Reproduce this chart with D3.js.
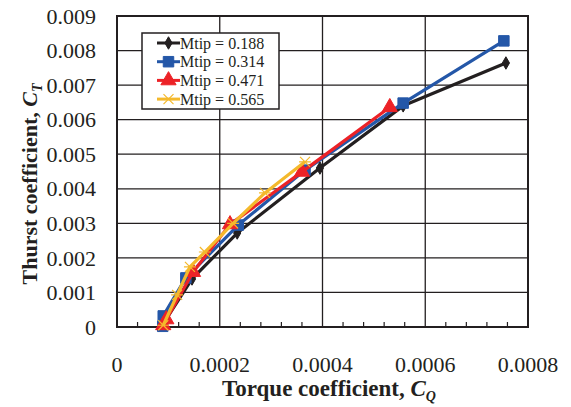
<!DOCTYPE html>
<html>
<head>
<meta charset="utf-8">
<script src="https://cdn.jsdelivr.net/npm/d3@7"></script>
<style>
  body { margin: 0; background: #fff; }
  text { font-family: "Liberation Serif", "DejaVu Serif", serif; fill: #231f20; }
</style>
</head>
<body>
<script>
var width = 571;
var height = 407;
var margin = {top: 16, right: 43, bottom: 80, left: 117};

// data
var mtipLabels = ['Mtip = 0.188', 'Mtip = 0.314', 'Mtip = 0.471', 'Mtip = 0.565'];
var cq188 = [0.000091, 0.000146, 0.000234, 0.000395, 0.000557, 0.000757];
var ct188 = [0.00012, 0.00139, 0.00272, 0.00460, 0.00640, 0.00764];
var cq314 = [0.000089, 0.000090, 0.000134, 0.000236, 0.000366, 0.000557, 0.000753];
var ct314 = [0.00002, 0.00032, 0.00142, 0.00295, 0.00454, 0.00648, 0.00828];
var cq471 = [0.000090, 0.000096, 0.000148, 0.000220, 0.000360, 0.000531];
var ct471 = [0.00005, 0.00022, 0.00159, 0.00297, 0.00449, 0.00636];
var cq565 = [0.000090, 0.000117, 0.000142, 0.000171, 0.000226, 0.000288, 0.000366];
var ct565 = [0.00005, 0.00093, 0.00174, 0.00217, 0.00300, 0.00388, 0.00478];
var xTicks = [0, 0.0002, 0.0004, 0.0006, 0.0008];
var yTicks = [0, 0.001, 0.002, 0.003, 0.004, 0.005, 0.006, 0.007, 0.008, 0.009];

var colors = ['#231f20', '#2457a8', '#ec2227', '#f4b92c'];
var shapes = ['diamond', 'square', 'triangle', 'cross'];

var series = [
  {x: cq188, y: ct188},
  {x: cq314, y: ct314},
  {x: cq471, y: ct471},
  {x: cq565, y: ct565}
];

var xRange = d3.scaleLinear().domain([0, 0.0008]).range([margin.left, width - margin.right]);
var yRange = d3.scaleLinear().domain([0, 0.009]).range([height - margin.bottom, margin.top]);

var svg = d3.select('body')
  .append('svg')
  .attr('width', width)
  .attr('height', height);

// grid
svg.selectAll('line.hgrid')
  .data(yTicks.slice(1, -1))
  .enter()
  .append('line')
  .attr('class', 'hgrid')
  .attr('x1', xRange(0)).attr('x2', xRange(0.0008))
  .attr('y1', d => yRange(d)).attr('y2', d => yRange(d))
  .style('stroke', '#231f20')
  .style('stroke-width', 1.3);

svg.selectAll('line.vgrid')
  .data(xTicks.slice(1, -1))
  .enter()
  .append('line')
  .attr('class', 'vgrid')
  .attr('y1', yRange(0)).attr('y2', yRange(0.009))
  .attr('x1', d => xRange(d)).attr('x2', d => xRange(d))
  .style('stroke', '#231f20')
  .style('stroke-width', 1.3);

// minor ticks on the bottom axis
var minor = d3.range(0, 41).map(i => i * 0.00002).filter((d, i) => i % 2 === 0 && i % 10 !== 0);
svg.selectAll('line.minor')
  .data(minor)
  .enter()
  .append('line')
  .attr('class', 'minor')
  .attr('x1', d => xRange(d)).attr('x2', d => xRange(d))
  .attr('y1', yRange(0)).attr('y2', yRange(0) - 5)
  .style('stroke', '#231f20')
  .style('stroke-width', 1.2);

// plot frame
svg.append('rect')
  .attr('x', xRange(0))
  .attr('y', yRange(0.009))
  .attr('width', xRange(0.0008) - xRange(0))
  .attr('height', yRange(0) - yRange(0.009))
  .style('fill', 'none')
  .style('stroke', '#231f20')
  .style('stroke-width', 2);

// tick labels
svg.selectAll('text.ylab')
  .data(yTicks)
  .enter()
  .append('text')
  .attr('class', 'ylab')
  .attr('x', 96)
  .attr('y', d => yRange(d))
  .attr('dy', '0.35em')
  .attr('text-anchor', 'end')
  .style('font-size', '22px')
  .text(d => d === 0 ? '0' : d3.format('.3f')(d));

svg.selectAll('text.xlab')
  .data(xTicks)
  .enter()
  .append('text')
  .attr('class', 'xlab')
  .attr('x', d => xRange(d))
  .attr('y', 372)
  .attr('text-anchor', 'middle')
  .style('font-size', '22px')
  .text(d => d === 0 ? '0' : d3.format('.4f')(d));

// axis titles
var xt = svg.append('text')
  .attr('x', 329)
  .attr('y', 396)
  .attr('text-anchor', 'middle')
  .style('font-size', '23px')
  .style('font-weight', 'bold');
xt.append('tspan').text('Torque coefficient, ');
xt.append('tspan').style('font-style', 'italic').text('C');
xt.append('tspan').style('font-style', 'italic').style('font-size', '14px').attr('dy', 5).text('Q');

var yt = svg.append('text')
  .attr('transform', 'translate(37,184) rotate(-90)')
  .attr('text-anchor', 'middle')
  .style('font-size', '22px')
  .style('font-weight', 'bold');
yt.append('tspan').text('Thurst coefficient, ');
yt.append('tspan').style('font-style', 'italic').text('C');
yt.append('tspan').style('font-style', 'italic').style('font-size', '14px').attr('dy', 5).text('T');

// lines and markers
var line = d3.line()
  .x(d => xRange(d[0]))
  .y(d => yRange(d[1]));

function markerPath(shape) {
  if (shape === 'diamond') return d3.symbol(d3.symbolDiamond, 45)();
  if (shape === 'square') return d3.symbol(d3.symbolSquare, 110)();
  if (shape === 'triangle') return d3.symbol(d3.symbolTriangle, 100)();
  return 'M-5,-5L5,5M-5,5L5,-5M-6,0L6,0';
}

series.forEach(function (s, i) {
  var pts = s.x.map((d, j) => [d, s.y[j]]);
  var g = svg.append('g').attr('class', 'series' + i);
  g.append('path')
    .datum(pts)
    .attr('d', line)
    .style('fill', 'none')
    .style('stroke', colors[i])
    .style('stroke-width', 3.2)
    .style('stroke-linejoin', 'round');
  g.selectAll('path.mk')
    .data(pts)
    .enter()
    .append('path')
    .attr('class', 'mk')
    .attr('transform', d => 'translate(' + xRange(d[0]) + ',' + yRange(d[1]) + ')')
    .attr('d', markerPath(shapes[i]))
    .style('fill', shapes[i] === 'cross' ? 'none' : colors[i])
    .style('stroke', colors[i])
    .style('stroke-width', shapes[i] === 'cross' ? 1.2 : 1);
});

// legend
var legend = svg.append('g').attr('transform', 'translate(142,33)');
legend.append('rect')
  .attr('width', 137)
  .attr('height', 76)
  .style('fill', '#fff')
  .style('stroke', '#231f20')
  .style('stroke-width', 1.5);

mtipLabels.forEach(function (lab, i) {
  var cy = 10 + i * 18.7;
  var row = legend.append('g').attr('transform', 'translate(0,' + cy + ')');
  row.append('line')
    .attr('x1', 15).attr('x2', 38)
    .style('stroke', colors[i])
    .style('stroke-width', 3);
  row.append('path')
    .attr('transform', 'translate(26.5,0)')
    .attr('d', markerPath(shapes[i]))
    .style('fill', shapes[i] === 'cross' ? 'none' : colors[i])
    .style('stroke', colors[i])
    .style('stroke-width', shapes[i] === 'cross' ? 1.2 : 1);
  row.append('text')
    .attr('x', 38)
    .attr('dy', '0.35em')
    .style('font-size', '16px')
    .text(lab);
});
</script>
</body>
</html>
